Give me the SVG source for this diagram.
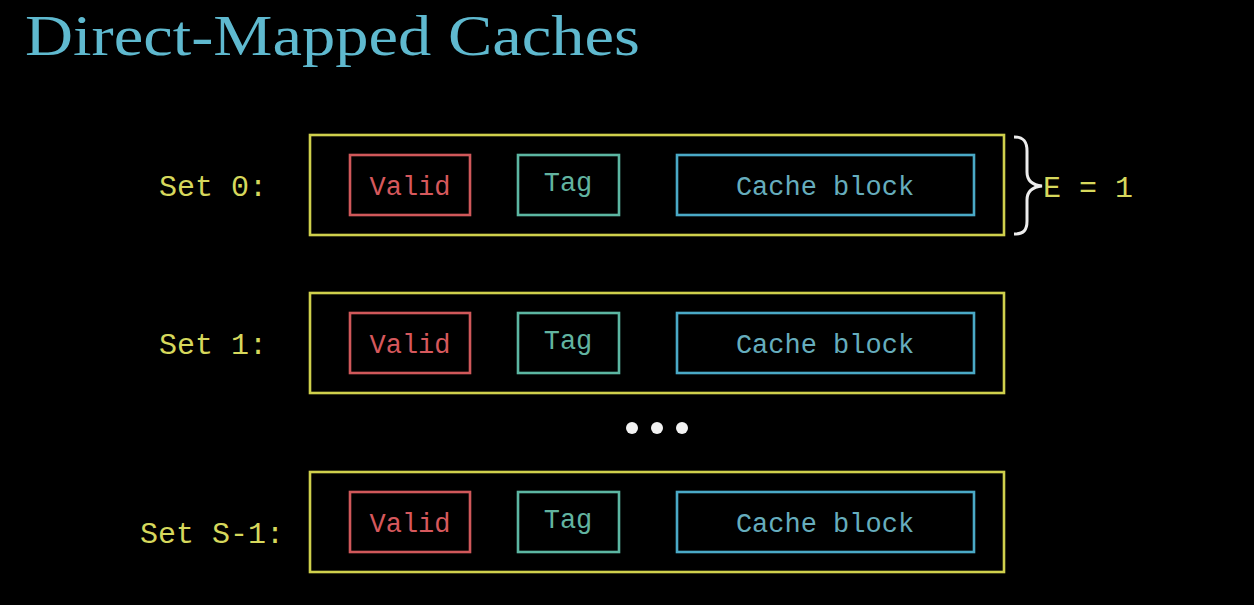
<svg xmlns="http://www.w3.org/2000/svg" width="1254" height="605" viewBox="0 0 1254 605">
<style>
.title{font-family:"Liberation Serif","DejaVu Serif",serif;font-size:58px;fill:#5fb9cf}
.lbl{font-family:"Liberation Mono","DejaVu Sans Mono",monospace;font-size:30px;fill:#d6d85c;text-anchor:middle}
.eq{font-family:"Liberation Mono","DejaVu Sans Mono",monospace;font-size:30px;fill:#d6d85c}
.in{font-family:"Liberation Mono","DejaVu Sans Mono",monospace;font-size:27px;text-anchor:middle}
.outer{fill:none;stroke:#cfd04c;stroke-width:2.6}
.valid{fill:none;stroke:#d0585a;stroke-width:2.6}
.tag{fill:none;stroke:#5cb6a2;stroke-width:2.6}
.blk{fill:none;stroke:#4aa9c6;stroke-width:2.6}
.tv{fill:#d6585c}
.tt{fill:#62b4a0}
.tb{fill:#66adbd}
</style>
<rect width="1254" height="605" fill="#000"/>
<text class="title" x="25" y="55" textLength="615" lengthAdjust="spacingAndGlyphs">Direct-Mapped Caches</text>

<g id="set0">
<text class="lbl" x="213" y="196">Set 0:</text>
<rect class="outer" x="310" y="135" width="694" height="100"/>
<g id="set0-valid"><rect class="valid" x="350" y="155" width="120" height="60"/><text class="in tv" x="410" y="195">Valid</text></g>
<g id="set0-tag"><rect class="tag" x="518" y="155" width="101" height="60"/><text class="in tt" x="568" y="191">Tag</text></g>
<g id="set0-block"><rect class="blk" x="677" y="155" width="297" height="60"/><text class="in tb" x="825" y="195">Cache block</text></g>
</g>

<g id="set1">
<text class="lbl" x="213" y="354">Set 1:</text>
<rect class="outer" x="310" y="293" width="694" height="100"/>
<g id="set1-valid"><rect class="valid" x="350" y="313" width="120" height="60"/><text class="in tv" x="410" y="353">Valid</text></g>
<g id="set1-tag"><rect class="tag" x="518" y="313" width="101" height="60"/><text class="in tt" x="568" y="349">Tag</text></g>
<g id="set1-block"><rect class="blk" x="677" y="313" width="297" height="60"/><text class="in tb" x="825" y="353">Cache block</text></g>
</g>

<g id="dots" fill="#f2f2f2">
<circle cx="632" cy="428" r="6"/>
<circle cx="657" cy="428" r="6"/>
<circle cx="682" cy="428" r="6"/>
</g>

<g id="setS1">
<text class="lbl" x="212" y="543">Set S-1:</text>
<rect class="outer" x="310" y="472" width="694" height="100"/>
<g id="setS1-valid"><rect class="valid" x="350" y="492" width="120" height="60"/><text class="in tv" x="410" y="532">Valid</text></g>
<g id="setS1-tag"><rect class="tag" x="518" y="492" width="101" height="60"/><text class="in tt" x="568" y="528">Tag</text></g>
<g id="setS1-block"><rect class="blk" x="677" y="492" width="297" height="60"/><text class="in tb" x="825" y="532">Cache block</text></g>
</g>

<g id="brace">
<path d="M1014,137 C1024,137 1027,142 1027,151 L1027,172 C1027,180 1032,185 1042,186 C1032,187 1027,192 1027,200 L1027,221 C1027,230 1024,234 1014,234" fill="none" stroke="#ececec" stroke-width="3"/>
<text class="eq" x="1043" y="197">E = 1</text>
</g>
</svg>
